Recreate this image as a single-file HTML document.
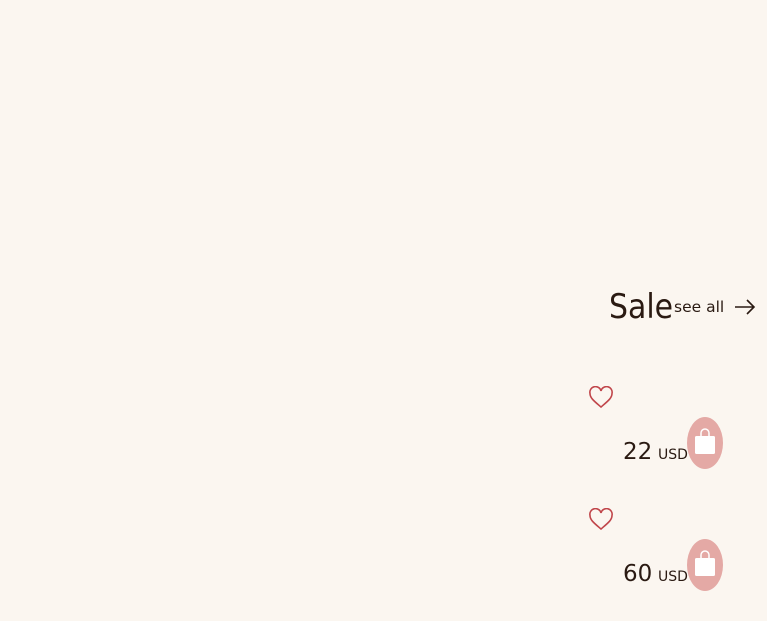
<!DOCTYPE html>
<html><head><meta charset="utf-8"><style>
html,body{margin:0;padding:0;width:767px;height:621px;background:#fbf6f0;overflow:hidden;font-family:"DejaVu Sans","Liberation Sans",sans-serif;color:#2a1a12;position:relative}
.abs{position:absolute}
.title{left:609px;top:287px;font-size:34px;line-height:40px;transform:scaleX(0.88);transform-origin:left top}
.see{left:674px;top:297px;font-size:15.5px;line-height:20px}
.price{font-size:23px;line-height:30px}
.usd{font-size:14px;line-height:16px}
.bag{width:36px;height:52px;border-radius:50%;background:#e4a9a5}
</style></head><body>
<div class="abs title">Sale</div>
<div class="abs see">see all</div>
<svg class="abs" style="left:733px;top:298px" width="24" height="18"><path d="M2 9H21M14 2L21 9L14 16" fill="none" stroke="#2a1a12" stroke-width="1.6"/></svg>

<svg class="abs" style="left:588px;top:386px" width="26" height="24"><path d="M13 21C6 15 2 12 2 7.5A5 5 0 0 1 13 5A5 5 0 0 1 24 7.5C24 12 20 15 13 21Z" fill="none" stroke="#c0454a" stroke-width="1.6"/></svg>
<div class="abs price" style="left:623px;top:437px">22</div>
<div class="abs usd" style="left:658px;top:447px">USD</div>
<div class="abs bag" style="left:687px;top:417px"><svg width="36" height="52"><path d="M14 19V16A4 4 0 0 1 22 16V19" fill="none" stroke="#fff" stroke-width="1.5"/><rect x="8" y="19" width="20" height="18" rx="1.5" fill="#fff"/></svg></div>

<svg class="abs" style="left:588px;top:508px" width="26" height="24"><path d="M13 21C6 15 2 12 2 7.5A5 5 0 0 1 13 5A5 5 0 0 1 24 7.5C24 12 20 15 13 21Z" fill="none" stroke="#c0454a" stroke-width="1.6"/></svg>
<div class="abs price" style="left:623px;top:559px">60</div>
<div class="abs usd" style="left:658px;top:569px">USD</div>
<div class="abs bag" style="left:687px;top:539px"><svg width="36" height="52"><path d="M14 19V16A4 4 0 0 1 22 16V19" fill="none" stroke="#fff" stroke-width="1.5"/><rect x="8" y="19" width="20" height="18" rx="1.5" fill="#fff"/></svg></div>
</body></html>
